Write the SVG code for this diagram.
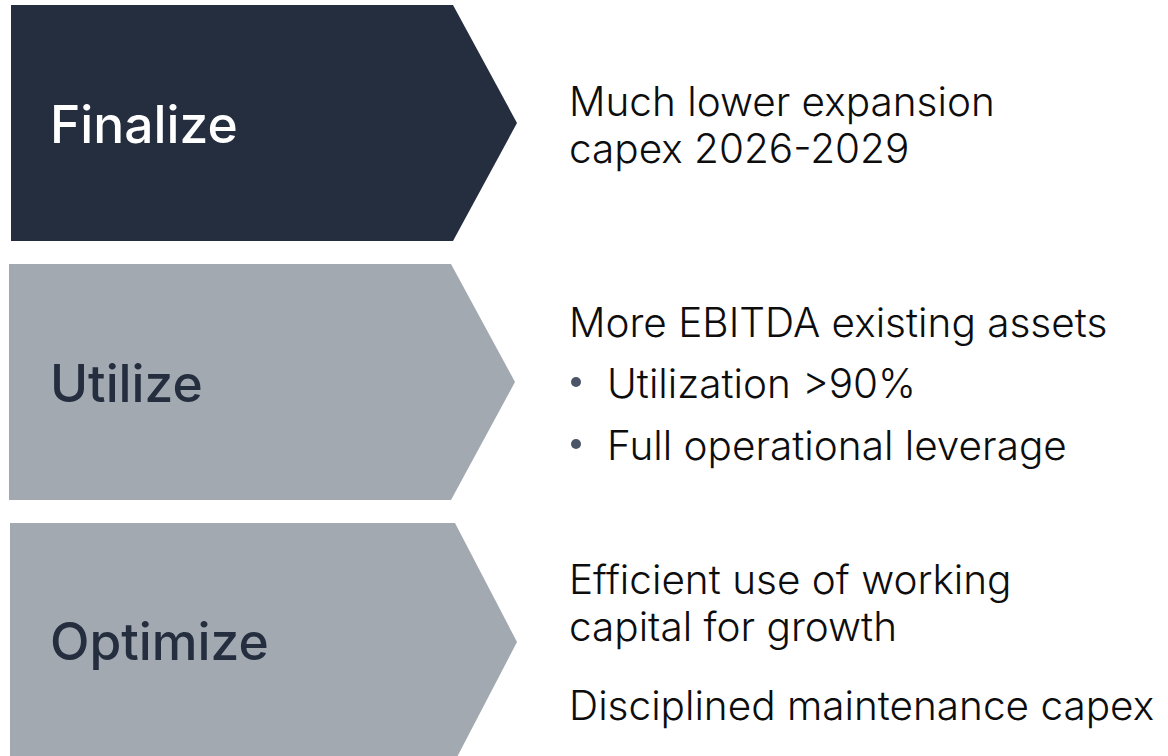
<svg xmlns="http://www.w3.org/2000/svg" width="1168" height="756" viewBox="0 0 1168 756">
<style>
.dark{fill:#252e3f}
.gray{fill:#a2a9b0}
.lbl{font-family:Inter,"Liberation Sans",sans-serif;font-size:51.5px;font-weight:500}
.txt{font-family:Inter,"Liberation Sans",sans-serif;font-size:40.5px;font-weight:300;fill:#0d0d0d}
.bul{fill:#4a5568}
</style>
<rect width="1168" height="756" fill="#ffffff"/>
<g id="finalize">
<polygon class="dark" points="11,5 453,5 517,123 453,241 11,241"/>
<text class="lbl" x="50" y="143" fill="#ffffff">Finalize</text>
</g>
<g id="utilize">
<polygon class="gray" points="9,264 451,264 515,382 451,500 9,500"/>
<text class="lbl" x="50" y="402" fill="#252e3f">Utilize</text>
</g>
<g id="optimize">
<polygon class="gray" points="10,523 455,523 517,642 455,761 10,761"/>
<text class="lbl" x="50" y="660" fill="#252e3f">Optimize</text>
</g>
<g id="finalize-text">
<text class="txt" x="569" y="116">Much lower expansion</text>
<text class="txt" x="569" y="163">capex 2026-2029</text>
</g>
<g id="utilize-text">
<text class="txt" x="569" y="337">More EBITDA existing assets</text>
<circle class="bul" cx="576" cy="382" r="5"/>
<text class="txt" x="607" y="398">Utilization &gt;90%</text>
<circle class="bul" cx="576" cy="444" r="5"/>
<text class="txt" x="607" y="460">Full operational leverage</text>
</g>
<g id="optimize-text">
<text class="txt" x="569" y="594">Efficient use of working</text>
<text class="txt" x="569" y="641">capital for growth</text>
<text class="txt" x="569" y="720">Disciplined maintenance capex</text>
</g>
<g id="connectors"/>
</svg>
